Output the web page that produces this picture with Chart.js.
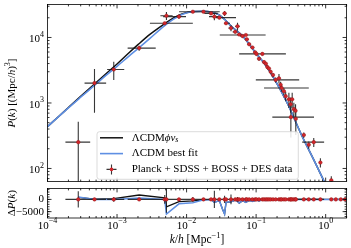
<!DOCTYPE html>
<html>
<head>
<meta charset="utf-8">
<script src="https://cdn.jsdelivr.net/npm/chart.js@4.4.1/dist/chart.umd.min.js"></script>
<style>
html, body { margin: 0; padding: 0; background: #fff; }
#wrap { position: relative; width: 351px; height: 248px; }
canvas { position: absolute; left: 0; }
</style>
</head>
<body>
<div id="wrap">
<canvas id="main" width="351" height="186" style="top:0px"></canvas>
<canvas id="res" width="351" height="64" style="top:184px"></canvas>
</div>
<script>
// model curves
var kModel = [1e-4, 1.5e-4, 2e-4, 3e-4, 5e-4, 7e-4, 1e-3, 1.5e-3, 2e-3, 3e-3, 4.7e-3, 6.5e-3, 8.6e-3, 0.0119, 0.0177, 0.023, 0.0289, 0.036, 0.0447, 0.0658, 0.0965, 0.134, 0.186, 0.288, 0.446, 0.692, 0.961, 1.265, 1.6];
var pLCDM = [436, 641, 843, 1225, 1950, 2655, 3630, 5250, 6760, 9770, 14800, 19050, 22390, 24800, 25100, 24300, 22300, 18500, 14600, 10200, 6000, 3900, 2250, 940, 330, 128, 62, 34, 18];
var pPhi = [436, 643, 851, 1259, 2042, 2818, 3936, 5888, 7762, 11220, 15850, 19950, 22900, 24800, 25100, 24300, 22300, 18500, 14600, 10200, 6000, 3900, 2250, 940, 330, 128, 62, 34, 18];

// data points
var kData = [2.77e-4, 4.74e-4, 8.97e-4, 2.08e-3, 4.85e-3, 5.13e-3, 7.77e-3, 0.0123, 0.0175, 0.0225, 0.0251, 0.0296, 0.0352, 0.0369, 0.0435, 0.0501, 0.054, 0.0571, 0.0637, 0.0712, 0.0735, 0.0794, 0.0885, 0.0968, 0.101, 0.110, 0.123, 0.130, 0.138, 0.145, 0.153, 0.162, 0.175, 0.191, 0.213, 0.225, 0.233, 0.251, 0.266, 0.296, 0.313, 0.316, 0.330, 0.349, 0.369, 0.372, 0.485, 0.571, 0.674, 0.840, 1.205, 1.40, 1.65, 1.90];
var pData = [252, 2010, 3245, 6890, 16500, 21500, 20800, 24700, 24700, 23300, 20800, 20100, 23300, 16500, 13900, 12200, 14800, 11100, 10500, 10900, 9370, 7890, 7030, 5930, 5610, 4730, 5610, 4210, 3980, 3545, 3355, 2990, 2670, 2250, 2380, 1900, 1690, 1510, 1270, 1135, 957, 607, 1135, 805, 760, 573, 324, 230, 252, 123, 66, 45, 30, 20];
var kLo = [1.81e-4, 3.41e-4, 7.2e-4, 1.42e-3, 2.97e-3, 4.2e-3, 4.6e-3, 7.8e-3, 0.0128, 0.018, 0.021, 0.0264, 0.033, 0.0345, 0.040, 0.046, 0.050, 0.053, 0.059, 0.030, 0.069, 0.075, 0.083, 0.092, 0.096, 0.104, 0.057, 0.124, 0.131, 0.138, 0.146, 0.155, 0.167, 0.099, 0.204, 0.215, 0.130, 0.240, 0.255, 0.284, 0.300, 0.171, 0.317, 0.335, 0.354, 0.357, 0.46, 0.54, 0.46, 0.80, 1.15, 1.34, 1.58, 1.82];
var kHi = [4.11e-4, 6.97e-4, 1.27e-3, 3.6e-3, 0.0123, 6.3e-3, 9.8e-3, 0.0169, 0.030, 0.028, 0.030, 0.0514, 0.0375, 0.042, 0.047, 0.054, 0.058, 0.061, 0.068, 0.137, 0.078, 0.084, 0.094, 0.102, 0.106, 0.116, 0.268, 0.136, 0.145, 0.152, 0.160, 0.169, 0.183, 0.416, 0.222, 0.235, 0.572, 0.262, 0.277, 0.308, 0.326, 0.68, 0.343, 0.363, 0.384, 0.387, 0.51, 0.60, 0.95, 0.88, 1.26, 1.46, 1.72, 1.98];
var pErr = [264, 1300, 1000, 600, 800, 3000, 1500, 800, 700, 900, 2400, 800, 2000, 800, 1500, 600, 2000, 500, 500, 400, 400, 400, 350, 300, 300, 300, 300, 250, 250, 250, 200, 200, 200, 200, 400, 200, 200, 200, 200, 300, 250, 310, 300, 200, 200, 250, 30, 30, 40, 20, 10, 8, 6, 4];
var resErr = [3300, 300, 1000, 300, 1800, 5500, 600, 1000, 300, 500, 3500, 500, 1500, 600, 2000, 600, 1000, 600, 600, 400, 500, 400, 400, 300, 300, 300, 200, 200, 200, 200, 150, 150, 150, 150, 300, 150, 150, 150, 150, 200, 150, 200, 200, 150, 150, 150, 50, 50, 50, 50, 50, 50, 50, 50];

// residual curves (model - data)
var resK = [2.77e-4, 4.74e-4, 8.97e-4, 2.08e-3, 4.85e-3, 5.13e-3, 7.77e-3, 0.0123, 0.0175, 0.0225, 0.0251, 0.0296, 0.0330, 0.0352, 0.0369, 0.0435, 0.0501, 0.054, 0.0571, 0.0637, 0.0712, 0.0794, 0.0885, 0.101, 0.110, 0.123, 0.138, 0.153, 0.175, 0.21, 0.25, 0.30, 0.37, 0.485, 0.674, 0.84, 1.2, 1.9];
var resLCDM = [1000, 0, 0, 600, 0, -6000, -1800, -1400, -200, 0, -1200, -500, -4100, -6000, -1200, -1000, -300, -800, -1500, -500, -1200, -400, -800, -300, -600, -200, -400, -100, -100, 0, -100, 0, 0, 0, 0, 0, 0, 0];
var resPhi = [800, 100, 300, 1800, 600, -3000, -900, -600, -200, 0, -1200, -500, -4100, -6000, -1200, -1000, -300, -800, -1500, -500, -1200, -400, -800, -300, -600, -200, -400, -100, -100, 0, -100, 0, 0, 0, 0, 0, 0, 0];

// ticks
var xTickExp = [-4, -3, -2, -1, 0];
var yTickExp = [2, 3, 4];
var resTicks = [0, -5000];
var resTickText = ['0', '\u22125000'];

var FONT = "'Liberation Serif', 'Times New Roman', serif";
Chart.defaults.font.family = FONT;

var BLUE = '#5e8fe3';
var RED = '#d3262b';

function seg(t, size, italic, dy) {
    return { t: t, s: size, i: !!italic, dy: dy || 0 };
}

function drawRich(ctx, segs, x, y, align) {
    var w = 0;
    segs.forEach(function (s) {
        ctx.font = (s.i ? 'italic ' : '') + s.s + 'px ' + FONT;
        s.w = ctx.measureText(s.t).width;
        w += s.w;
    });
    var cx = align == 'right' ? x - w : (align == 'center' ? x - w / 2 : x);
    ctx.textAlign = 'left';
    ctx.textBaseline = 'middle';
    segs.forEach(function (s) {
        ctx.font = (s.i ? 'italic ' : '') + s.s + 'px ' + FONT;
        ctx.fillText(s.t, cx, y + s.dy);
        cx += s.w;
    });
}

function powLabel(e) {
    return [seg('10', 11, false, 2), seg(e < 0 ? '\u2212' + (-e) : '' + e, 8, false, -3)];
}

var xMajor = xTickExp.map(function (e) { return Math.pow(10, e); });
var xMinor = [];
for (var e = -4; e <= 0; e++)
    for (var n = 2; n <= 9; n++)
        if (n * Math.pow(10, e) <= 2) xMinor.push(n * Math.pow(10, e));
var yMajor = yTickExp.map(function (e) { return Math.pow(10, e); });
var yMinor = [];
for (var e = 1; e <= 4; e++)
    for (var n = 2; n <= 9; n++) {
        var v = n * Math.pow(10, e);
        if (v >= 63 && v <= 32000) yMinor.push(v);
    }
var resMinor = [];
for (var v = -7000; v <= 4000; v += 1000) resMinor.push(v);

function errorBars(dsIndex, xs, ys, lo, hi, err) {
    return {
        id: 'errbars',
        beforeDatasetDraw: function (chart, args) {
            if (args.index !== dsIndex) return;
            var ctx = chart.ctx, a = chart.chartArea;
            var sx = chart.scales.x, sy = chart.scales.y;
            ctx.save();
            ctx.beginPath();
            ctx.rect(a.left, a.top, a.right - a.left, a.bottom - a.top);
            ctx.clip();
            ctx.strokeStyle = 'rgba(20,20,20,0.85)';
            ctx.lineWidth = 1.1;
            ctx.beginPath();
            for (var i = 0; i < xs.length; i++) {
                var px = sx.getPixelForValue(xs[i]);
                var py = sy.getPixelForValue(ys[i]);
                ctx.moveTo(sx.getPixelForValue(lo[i]), py);
                ctx.lineTo(sx.getPixelForValue(hi[i]), py);
                var bot = ys[i] - err[i];
                var pb = (sy.type == 'logarithmic' && bot <= 0) ? a.bottom + 5 : sy.getPixelForValue(bot);
                ctx.moveTo(px, sy.getPixelForValue(ys[i] + err[i]));
                ctx.lineTo(px, pb);
            }
            ctx.stroke();
            ctx.restore();
        }
    };
}

function frame(cfg) {
    return {
        id: 'frame',
        afterDraw: function (chart) {
            var ctx = chart.ctx, a = chart.chartArea;
            var sx = chart.scales.x, sy = chart.scales.y;
            ctx.save();
            ctx.strokeStyle = '#000';
            ctx.fillStyle = '#000';
            ctx.lineWidth = 0.8;
            ctx.strokeRect(a.left, a.top, a.right - a.left, a.bottom - a.top);
            ctx.beginPath();
            function xt(v, len) {
                var p = sx.getPixelForValue(v);
                ctx.moveTo(p, a.top); ctx.lineTo(p, a.top + len);
                ctx.moveTo(p, a.bottom); ctx.lineTo(p, a.bottom - len);
            }
            function yt(v, len) {
                var p = sy.getPixelForValue(v);
                ctx.moveTo(a.left, p); ctx.lineTo(a.left + len, p);
                ctx.moveTo(a.right, p); ctx.lineTo(a.right - len, p);
            }
            xMajor.forEach(function (v) { xt(v, 4); });
            xMinor.forEach(function (v) { xt(v, 2); });
            cfg.yMajor.forEach(function (v) { yt(v, 4); });
            cfg.yMinor.forEach(function (v) { yt(v, 2); });
            ctx.stroke();

            cfg.yMajor.forEach(function (v, i) {
                drawRich(ctx, cfg.yLabels[i], a.left - 3.5, sy.getPixelForValue(v), 'right');
            });
            ctx.save();
            ctx.translate(12, (a.top + a.bottom) / 2);
            ctx.rotate(-Math.PI / 2);
            drawRich(ctx, cfg.yTitle, 0, 0, 'center');
            ctx.restore();

            if (cfg.xLabels) {
                xTickExp.forEach(function (e, i) {
                    drawRich(ctx, powLabel(e), sx.getPixelForValue(xMajor[i]), a.bottom + 6, 'center');
                });
                drawRich(ctx, [seg('k', 11.5, true), seg('/', 11.5), seg('h', 11.5, true), seg(' [Mpc', 11.5),
                    seg('\u22121', 8.5, false, -4), seg(']', 11.5)], (a.left + a.right) / 2, a.bottom + 22, 'center');
            }
            if (cfg.legend) drawLegend(ctx);
            ctx.restore();
        }
    };
}

function drawLegend(ctx) {
    var x0 = 97, y0 = 131.7, w = 201.3, h = 47.6, r = 2.5;
    ctx.save();
    ctx.beginPath();
    ctx.moveTo(x0 + r, y0);
    ctx.arcTo(x0 + w, y0, x0 + w, y0 + h, r);
    ctx.arcTo(x0 + w, y0 + h, x0, y0 + h, r);
    ctx.arcTo(x0, y0 + h, x0, y0, r);
    ctx.arcTo(x0, y0, x0 + w, y0, r);
    ctx.closePath();
    ctx.fillStyle = 'rgba(255,255,255,0.85)';
    ctx.fill();
    ctx.strokeStyle = '#d2d2d2';
    ctx.lineWidth = 0.8;
    ctx.stroke();

    var rows = [137.8, 153.6, 169.4];
    ctx.lineWidth = 1.5;
    ctx.strokeStyle = '#111';
    ctx.beginPath(); ctx.moveTo(100, rows[0]); ctx.lineTo(123, rows[0]); ctx.stroke();
    ctx.strokeStyle = BLUE;
    ctx.lineWidth = 1.6;
    ctx.beginPath(); ctx.moveTo(100, rows[1]); ctx.lineTo(123, rows[1]); ctx.stroke();
    ctx.strokeStyle = 'rgba(20,20,20,0.85)';
    ctx.lineWidth = 1.1;
    ctx.beginPath();
    ctx.moveTo(106.5, rows[2]); ctx.lineTo(116.5, rows[2]);
    ctx.moveTo(111.5, rows[2] - 5); ctx.lineTo(111.5, rows[2] + 5);
    ctx.stroke();
    ctx.fillStyle = RED;
    ctx.beginPath(); ctx.arc(111.5, rows[2], 1.8, 0, 2 * Math.PI); ctx.fill();

    ctx.fillStyle = '#000';
    drawRich(ctx, [seg('\u039bCDM', 11), seg('\u03d5\u03bd', 11, true), seg('s', 8, true, 2.5)], 131.7, rows[0], 'left');
    drawRich(ctx, [seg('\u039bCDM best fit', 11)], 131.7, rows[1], 'left');
    drawRich(ctx, [seg('Planck + SDSS + BOSS + DES data', 11)], 131.7, rows[2], 'left');
    ctx.restore();
}

function xy(xsArr, ysArr) {
    return xsArr.map(function (k, i) { return { x: k, y: ysArr[i] }; });
}

var commonOpts = {
    responsive: false,
    animation: false,
    events: [],
    plugins: { legend: { display: false }, tooltip: { enabled: false } }
};

new Chart(document.getElementById('main'), {
    type: 'line',
    data: {
        datasets: [{
            data: xy(kModel, pPhi),
            borderColor: '#111',
            borderWidth: 1.5,
            pointRadius: 0,
            cubicInterpolationMode: 'monotone',
            order: 2
        }, {
            data: xy(kModel, pLCDM),
            borderColor: BLUE,
            borderWidth: 1.6,
            pointRadius: 0,
            cubicInterpolationMode: 'monotone',
            order: 1
        }, {
            data: xy(kData, pData),
            showLine: false,
            pointRadius: 1.8,
            pointBackgroundColor: RED,
            pointBorderColor: '#8a1414',
            pointBorderWidth: 0.4,
            order: 0
        }]
    },
    options: Object.assign({}, commonOpts, {
        layout: { padding: { left: 47.5, right: 2, top: 3, bottom: 1.7 } },
        scales: {
            x: { type: 'logarithmic', min: 1e-4, max: 2, display: false },
            y: { type: 'logarithmic', min: 63, max: 32000, display: false }
        }
    }),
    plugins: [
        errorBars(2, kData, pData, kLo, kHi, pErr),
        frame({
            yMajor: yMajor,
            yMinor: yMinor,
            yLabels: yTickExp.map(powLabel),
            yTitle: [seg('P', 11, true), seg('(', 11), seg('k', 11, true), seg(') [(Mpc/', 11), seg('h', 11, true),
                seg(')', 11), seg('3', 8, false, -4), seg(']', 11)],
            legend: true
        })
    ]
});

var resZero = kData.map(function () { return 0; });

new Chart(document.getElementById('res'), {
    type: 'line',
    data: {
        datasets: [{
            data: xy(resK, resPhi),
            borderColor: '#111',
            borderWidth: 1.3,
            pointRadius: 0,
            tension: 0,
            order: 2
        }, {
            data: xy(resK, resLCDM),
            borderColor: BLUE,
            borderWidth: 1.5,
            pointRadius: 0,
            tension: 0,
            order: 1
        }, {
            data: xy(kData, resZero),
            showLine: false,
            pointRadius: 1.8,
            pointBackgroundColor: RED,
            pointBorderColor: '#8a1414',
            pointBorderWidth: 0.4,
            order: 0
        }]
    },
    options: Object.assign({}, commonOpts, {
        layout: { padding: { left: 47.5, right: 2, top: 0.3, bottom: 30 } },
        scales: {
            x: { type: 'logarithmic', min: 1e-4, max: 2, display: false },
            y: { type: 'linear', min: -7600, max: 4500, display: false }
        }
    }),
    plugins: [
        errorBars(2, kData, resZero, kLo, kHi, resErr),
        frame({
            yMajor: resTicks,
            yMinor: resMinor,
            yLabels: resTickText.map(function (t) { return [seg(t, 11)]; }),
            yTitle: [seg('\u0394', 11), seg('P', 11, true), seg('(', 11), seg('k', 11, true), seg(')', 11)],
            xLabels: true
        })
    ]
});
</script>
</body>
</html>
